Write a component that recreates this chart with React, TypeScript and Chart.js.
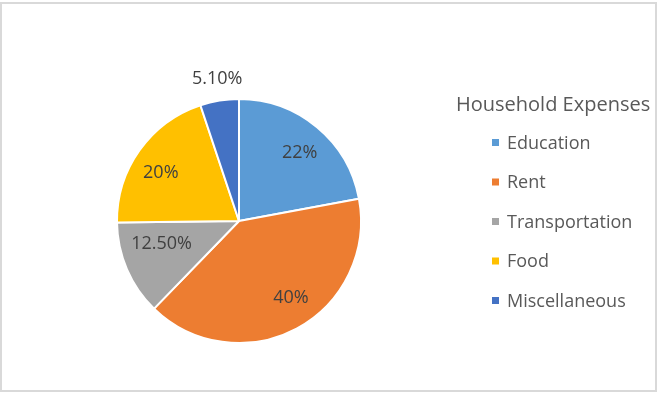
import React, { useEffect, useRef } from "react";
import { Chart, registerables } from "chart.js";

Chart.register(...registerables);

const categories = ["Education", "Rent", "Transportation", "Food", "Miscellaneous"];
const values = [22, 40, 12.5, 20, 5.1];
const valueLabels = ["22%", "40%", "12.50%", "20%", "5.10%"];
const legendTitle = "Household Expenses";
const colors = ["#5B9BD5", "#ED7D31", "#A5A5A5", "#FFC000", "#4472C4"];

const FONT = "'Open Sans', sans-serif";

// label placement style: radial factor and angle nudge (degrees)
const labelPlacement = [
  { f: 0.747, a: 2 },
  { f: 0.757, a: -6 },
  { f: 0.661, a: 7 },
  { f: 0.751, a: -4 },
  { f: 1.178, a: 0.5 },
];

const decorPlugin = {
  id: "decor",
  beforeDraw(chart: any) {
    const ctx = chart.ctx;
    ctx.save();
    ctx.fillStyle = "#ffffff";
    ctx.fillRect(0, 0, chart.width, chart.height);
    ctx.strokeStyle = "#d9d9d9";
    ctx.lineWidth = 2;
    ctx.strokeRect(1, 3, 655, 388);
    ctx.restore();
  },
  afterDraw(chart: any) {
    const ctx = chart.ctx;
    const meta = chart.getDatasetMeta(0);
    ctx.save();
    // data labels
    ctx.font = `18px ${FONT}`;
    ctx.fillStyle = "#404040";
    ctx.textAlign = "center";
    ctx.textBaseline = "middle";
    meta.data.forEach((arc: any, i: number) => {
      const p = arc.getProps(["x", "y", "startAngle", "endAngle", "outerRadius"], true);
      const pl = labelPlacement[i];
      const mid = (p.startAngle + p.endAngle) / 2 + (pl.a * Math.PI) / 180;
      const r = p.outerRadius * pl.f;
      ctx.fillText(valueLabels[i], p.x + Math.cos(mid) * r, p.y + Math.sin(mid) * r);
    });
    // legend
    ctx.textAlign = "left";
    ctx.textBaseline = "alphabetic";
    ctx.fillStyle = "#595959";
    ctx.font = `20px ${FONT}`;
    ctx.fillText(legendTitle, 456, 111);
    ctx.font = `18px ${FONT}`;
    const labels = chart.data.labels as string[];
    const bg = chart.data.datasets[0].backgroundColor as string[];
    labels.forEach((lab, i) => {
      const top = 139 + 39.5 * i;
      ctx.fillStyle = bg[i];
      ctx.fillRect(492, top, 7, 7);
      ctx.fillStyle = "#595959";
      ctx.fillText(lab, 507, top + 9.5);
    });
    ctx.restore();
  },
};

export default function App() {
  const ref = useRef<HTMLCanvasElement | null>(null);
  useEffect(() => {
    if (!ref.current) return;
    const chart = new Chart(ref.current, {
      type: "pie",
      data: {
        labels: categories,
        datasets: [
          {
            data: values,
            backgroundColor: colors,
            borderColor: "#ffffff",
            borderWidth: 2,
          },
        ],
      },
      options: {
        responsive: false,
        animation: false,
        devicePixelRatio: 1,
        radius: 122,
        layout: { padding: { left: 118, right: 298, top: 100, bottom: 51 } },
        plugins: {
          legend: { display: false },
          tooltip: { enabled: false },
        },
      } as any,
      plugins: [decorPlugin],
    });
    return () => chart.destroy();
  }, []);
  return (
    <div style={{ position: "fixed", left: 0, top: 0, width: 658, height: 393 }}>
      <canvas ref={ref} width={658} height={393} style={{ display: "block" }} />
    </div>
  );
}
